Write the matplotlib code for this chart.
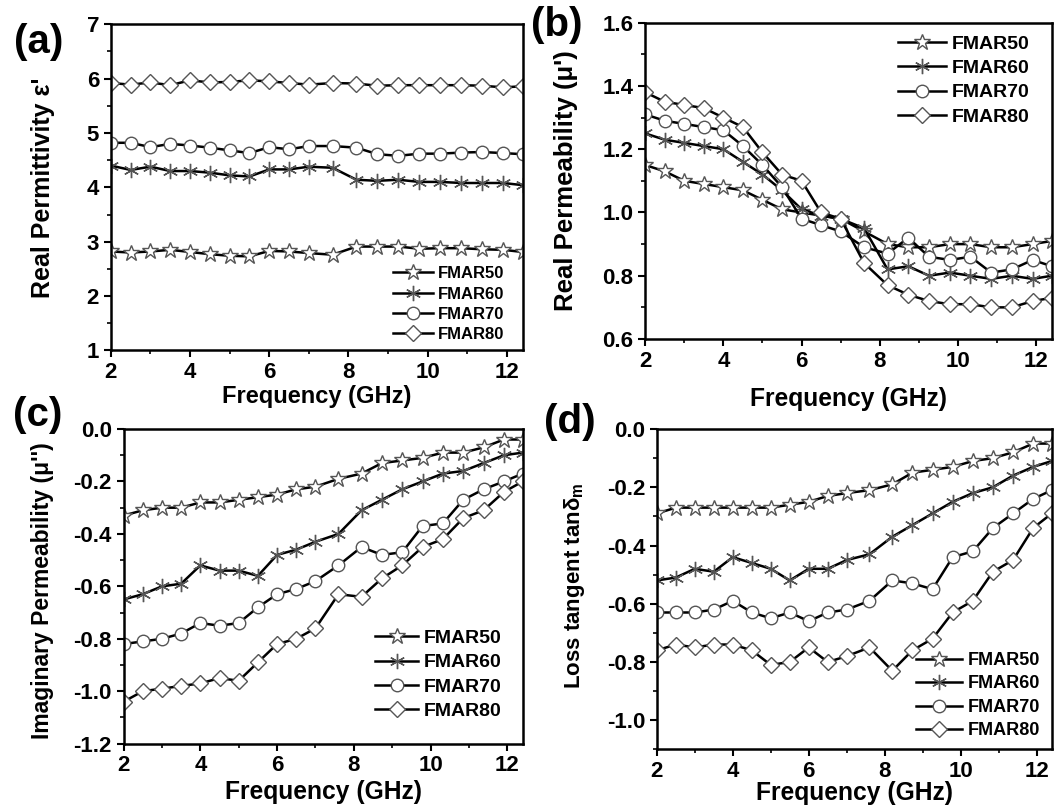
import numpy as np
import matplotlib.pyplot as plt

plt.rcParams['font.family'] = ['Liberation Sans', 'DejaVu Sans']
plt.rcParams['font.weight'] = 'bold'
plt.rcParams['axes.labelweight'] = 'bold'
plt.rcParams['mathtext.fontset'] = 'custom'
plt.rcParams['mathtext.rm'] = 'Liberation Sans:bold'
plt.rcParams['mathtext.default'] = 'regular'

# Frequency points (GHz)
freq = [2.0, 2.5, 3.0, 3.5, 4.0, 4.5, 5.0, 5.5, 6.0, 6.5, 7.0, 7.6,
        8.2, 8.73, 9.26, 9.79, 10.32, 10.85, 11.38, 11.91, 12.4]
samples = ['FMAR50', 'FMAR60', 'FMAR70', 'FMAR80']

# (a) real permittivity
eps_50 = [2.82, 2.80, 2.82, 2.85, 2.81, 2.77, 2.74, 2.73, 2.83, 2.82, 2.79, 2.76,
          2.91, 2.91, 2.91, 2.87, 2.88, 2.88, 2.86, 2.85, 2.81]
eps_60 = [4.40, 4.32, 4.38, 4.30, 4.30, 4.27, 4.22, 4.20, 4.33, 4.33, 4.38, 4.36,
          4.14, 4.12, 4.14, 4.10, 4.10, 4.08, 4.08, 4.08, 4.04]
eps_70 = [4.82, 4.82, 4.74, 4.80, 4.77, 4.73, 4.68, 4.63, 4.74, 4.70, 4.76, 4.76,
          4.73, 4.61, 4.58, 4.62, 4.62, 4.64, 4.65, 4.63, 4.61]
eps_80 = [5.92, 5.89, 5.93, 5.88, 5.97, 5.93, 5.94, 5.97, 5.95, 5.92, 5.89, 5.92,
          5.91, 5.87, 5.88, 5.88, 5.88, 5.88, 5.87, 5.84, 5.86]

# (b) real permeability
mu_r_50 = [1.15, 1.13, 1.10, 1.09, 1.08, 1.07, 1.04, 1.01, 1.00, 0.99, 0.98, 0.94,
           0.90, 0.89, 0.89, 0.90, 0.90, 0.89, 0.89, 0.90, 0.91]
mu_r_60 = [1.25, 1.23, 1.22, 1.21, 1.20, 1.16, 1.12, 1.07, 1.01, 0.99, 0.98, 0.95,
           0.82, 0.83, 0.80, 0.81, 0.80, 0.79, 0.80, 0.79, 0.80]
mu_r_70 = [1.31, 1.29, 1.28, 1.27, 1.26, 1.21, 1.15, 1.08, 0.98, 0.96, 0.94, 0.89,
           0.87, 0.92, 0.86, 0.85, 0.86, 0.81, 0.82, 0.85, 0.83]
mu_r_80 = [1.38, 1.35, 1.34, 1.33, 1.30, 1.27, 1.19, 1.12, 1.10, 1.00, 0.98, 0.84,
           0.77, 0.74, 0.72, 0.71, 0.71, 0.70, 0.70, 0.72, 0.73]

# (c) imaginary permeability
mu_i_50 = [-0.33, -0.31, -0.30, -0.30, -0.28, -0.28, -0.27, -0.26, -0.25, -0.23, -0.22, -0.19,
           -0.17, -0.13, -0.12, -0.11, -0.09, -0.09, -0.07, -0.04, -0.04]
mu_i_60 = [-0.65, -0.63, -0.60, -0.59, -0.52, -0.54, -0.54, -0.56, -0.48, -0.46, -0.43, -0.40,
           -0.31, -0.27, -0.23, -0.20, -0.17, -0.16, -0.13, -0.10, -0.09]
mu_i_70 = [-0.82, -0.81, -0.80, -0.78, -0.74, -0.75, -0.74, -0.68, -0.63, -0.61, -0.58, -0.52,
           -0.45, -0.48, -0.47, -0.37, -0.36, -0.27, -0.23, -0.20, -0.17]
mu_i_80 = [-1.04, -1.00, -0.99, -0.98, -0.97, -0.95, -0.96, -0.89, -0.82, -0.80, -0.76, -0.63,
           -0.64, -0.57, -0.52, -0.45, -0.42, -0.34, -0.31, -0.24, -0.20]

# (d) magnetic loss tangent
tan_50 = [-0.29, -0.27, -0.27, -0.27, -0.27, -0.27, -0.27, -0.26, -0.25, -0.23, -0.22, -0.21,
          -0.19, -0.15, -0.14, -0.13, -0.11, -0.10, -0.08, -0.05, -0.05]
tan_60 = [-0.52, -0.51, -0.48, -0.49, -0.44, -0.46, -0.48, -0.52, -0.48, -0.48, -0.45, -0.43,
          -0.37, -0.33, -0.29, -0.25, -0.22, -0.20, -0.16, -0.13, -0.11]
tan_70 = [-0.63, -0.63, -0.63, -0.62, -0.59, -0.63, -0.65, -0.63, -0.66, -0.63, -0.62, -0.59,
          -0.52, -0.53, -0.55, -0.44, -0.42, -0.34, -0.29, -0.24, -0.21]
tan_80 = [-0.76, -0.74, -0.75, -0.74, -0.74, -0.76, -0.81, -0.80, -0.75, -0.80, -0.78, -0.75,
          -0.83, -0.76, -0.72, -0.63, -0.59, -0.49, -0.45, -0.34, -0.29]

markers = ['*', (6, 2, 0), 'o', 'D']
msizes = [12, 11, 9, 8]

fig = plt.figure(figsize=(10.56, 8.11), dpi=100)

# rect, data, ylim, major step, minor step, ylabel (text, size, x, y), tag, tag pos,
# legend loc, legend anchor, legend font, labelspacing, handlelength,
# xlabel (size, y), y tick format
panels = [
    ([0.105, 0.568, 0.390, 0.402], [eps_50, eps_60, eps_70, eps_80], (1, 7), 1, 0.5,
     ("Real Permittivity ε'", 18, -0.136, 0.5), '(a)', (0.037, 0.948),
     'lower right', (0.956, 0.025), 12, 0.32, 2.4, (17, -0.105), '%d'),
    ([0.611, 0.582, 0.385, 0.390], [mu_r_50, mu_r_60, mu_r_70, mu_r_80], (0.6, 1.6), 0.2, 0.1,
     ("Real Permeability (μ')", 18.5, -0.165, 0.5), '(b)', (0.527, 0.969),
     'upper right', (0.946, 0.96), 14, 0.34, 2.5, (17.7, -0.152), '%.1f'),
    ([0.117, 0.083, 0.378, 0.388], [mu_i_50, mu_i_60, mu_i_70, mu_i_80], (-1.2, 0.0), 0.2, 0.1,
     ("Imaginary Permeability (μ'')", 16.5, -0.173, 0.486), '(c)', (0.036, 0.488),
     'lower right', (0.947, 0.076), 14, 0.34, 2.2, (17.7, -0.114), '%.1f'),
    ([0.622, 0.076, 0.374, 0.395], [tan_50, tan_60, tan_70, tan_80], (-1.1, 0.0), 0.2, 0.1,
     ("Loss tangent tan$δ_m$", 16, -0.177, 0.51), '(d)', (0.540, 0.480),
     'lower right', (0.97, 0.031), 13, 0.36, 2.55, (17.7, -0.10), '%.1f'),
]

for (rect, series, ylim, major, minor, ylab, tag, tagpos,
     loc, anchor, lfs, lsp, hlen, xlab, fmt) in panels:
    ax = fig.add_axes(rect)
    for s, name, m, ms in zip(series, samples, markers, msizes):
        ax.plot(freq, s, color='black', lw=1.8, marker=m, ms=ms,
                mfc='white', mec='#555555', mew=1.0, label=name)
    ax.set_xlim(2, 12.4)
    ax.set_ylim(*ylim)
    ax.set_xticks([2, 4, 6, 8, 10, 12])
    ax.set_xticks(np.arange(3, 12.5, 2), minor=True)
    start = -1.0 if tag == '(d)' else ylim[0]
    yt = np.round(np.arange(start, ylim[1] + 1e-6, major), 2) + 0.0
    ax.set_yticks(yt)
    ax.set_yticks(np.round(np.arange(ylim[0], ylim[1] + 1e-6, minor), 2), minor=True)
    ax.set_yticklabels([fmt % abs(v) if abs(v) < 1e-9 else fmt % v for v in yt])
    ax.tick_params(which='major', direction='out', length=5, width=1.5, labelsize=16)
    ax.tick_params(which='minor', direction='out', length=3, width=1.2)
    for sp in ax.spines.values():
        sp.set_linewidth(1.8)
    ax.set_xlabel('Frequency (GHz)', fontsize=xlab[0])
    ax.set_ylabel(ylab[0], fontsize=ylab[1])
    ax.xaxis.set_label_coords(0.5, xlab[1])
    ax.yaxis.set_label_coords(ylab[2], ylab[3])
    ax.legend(loc=loc, bbox_to_anchor=anchor, frameon=False, fontsize=lfs,
              handlelength=hlen, labelspacing=lsp, handletextpad=0.3,
              borderaxespad=0, borderpad=0)
    fig.text(tagpos[0], tagpos[1], tag, fontsize=29,
             fontweight='bold', ha='center', va='center')

plt.savefig('out.png', dpi=100)
